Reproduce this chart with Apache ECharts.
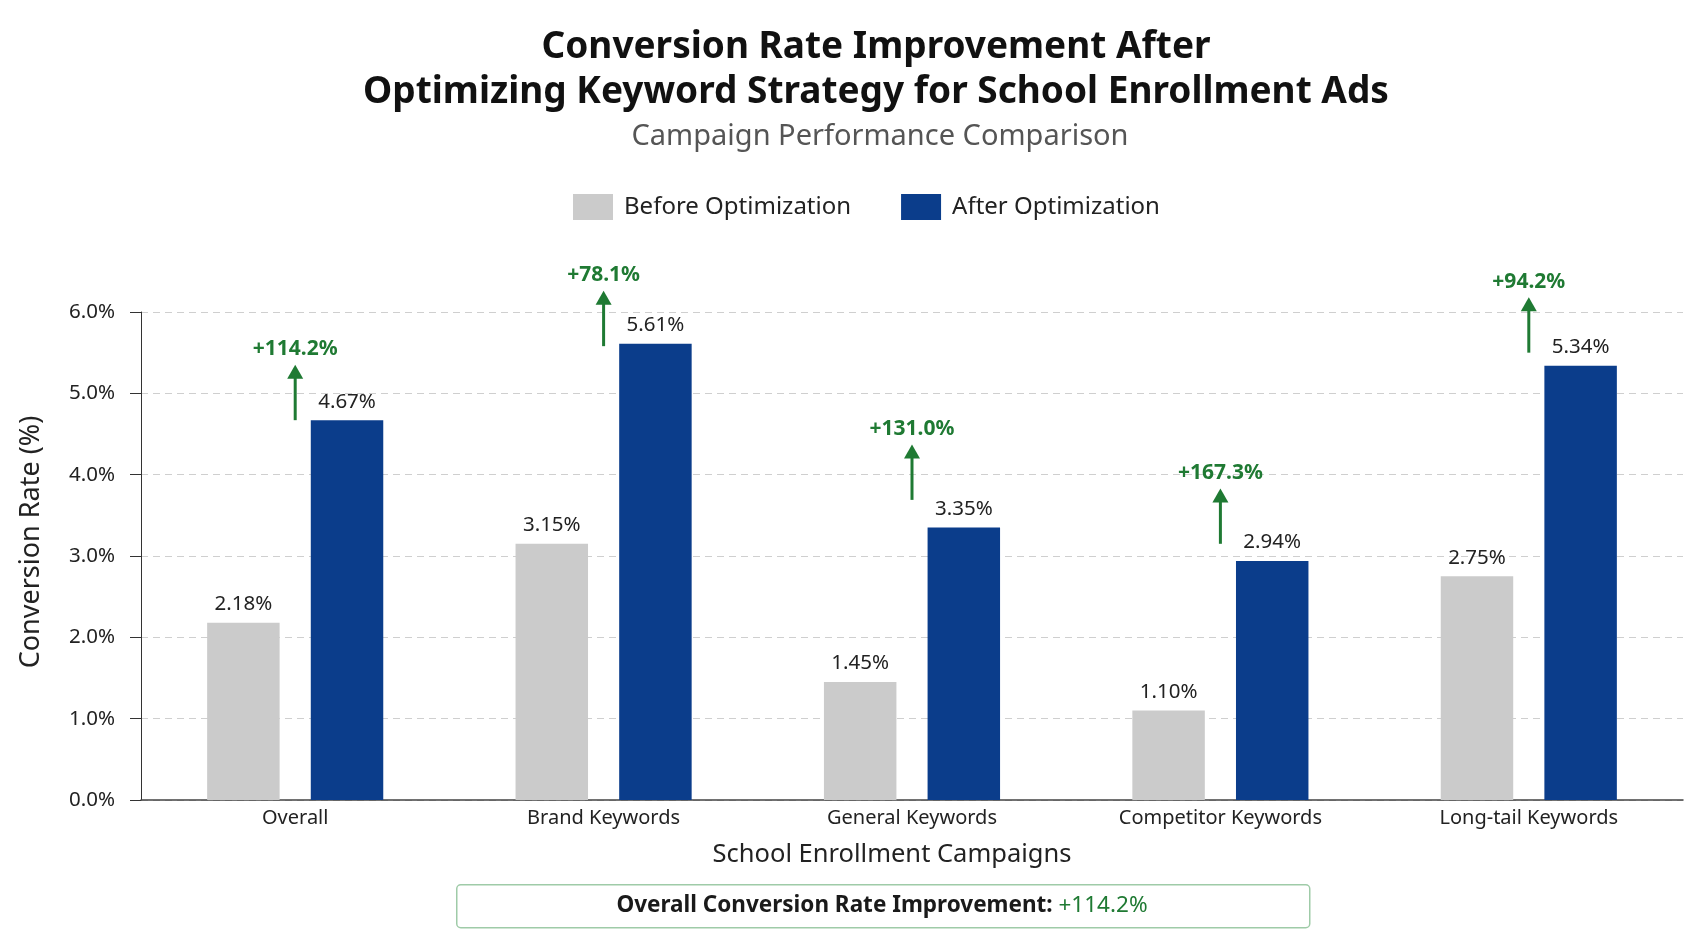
<!DOCTYPE html>
<html>
<head>
<meta charset="utf-8">
<title>Conversion Rate Improvement</title>
<script src="https://cdn.jsdelivr.net/npm/echarts@6/dist/echarts.min.js"></script>
<style>
  html, body { margin: 0; padding: 0; background: #ffffff; }
  #main { width: 1693px; height: 929px; }
</style>
</head>
<body>
<div id="main"></div>
<script>
// data
var categories = ['Overall', 'Brand Keywords', 'General Keywords', 'Competitor Keywords', 'Long-tail Keywords'];
var beforeRates = [2.18, 3.15, 1.45, 1.10, 2.75];
var afterRates = [4.67, 5.61, 3.35, 2.94, 5.34];
// where each green arrow starts (same units as the y axis)
var arrowBase = [4.67, 5.58, 3.69, 3.15, 5.50];
var yTicks = { min: 0, max: 6, interval: 1 };

var FONT = '"Noto Sans", "Open Sans", sans-serif';
var GREEN = '#1f7a33';
var arrowLen = 0.68;

// improvement % computed from the two series
var improvement = beforeRates.map(function (b, i) {
  return ((afterRates[i] - b) / b * 100).toFixed(1);
});

var chart = echarts.init(document.getElementById('main'));

var option = {
  backgroundColor: '#ffffff',
  textStyle: { fontFamily: FONT },
  title: [{
    text: 'Conversion Rate Improvement After\nOptimizing Keyword Strategy for School Enrollment Ads',
    left: 871,
    top: 20,
    textAlign: 'center',
    textStyle: { fontSize: 37, fontWeight: 'bold', color: '#111', lineHeight: 45, fontFamily: FONT }
  }, {
    text: 'Campaign Performance Comparison',
    left: 875,
    top: 117,
    textAlign: 'center',
    textStyle: { fontSize: 29, fontWeight: 'normal', color: '#555', fontFamily: FONT }
  }],
  legend: {
    data: ['Before Optimization', 'After Optimization'],
    left: 568,
    top: 189,
    itemWidth: 40,
    itemHeight: 26,
    itemGap: 50,
    icon: 'rect',
    textStyle: { fontSize: 24, color: '#222', fontFamily: FONT, padding: [0, 0, 0, 6] }
  },
  grid: { left: 141, right: 10, top: 312, bottom: 129, containLabel: false },
  xAxis: {
    type: 'category',
    data: categories,
    name: 'School Enrollment Campaigns',
    nameLocation: 'middle',
    nameGap: 42,
    nameTextStyle: { fontSize: 25.5, color: '#222', fontFamily: FONT, padding: [0, 40, 0, 0] },
    axisLine: { lineStyle: { color: '#444', width: 1.5 } },
    axisTick: { show: false },
    axisLabel: { fontSize: 20, color: '#222', margin: 8, interval: 0 }
  },
  yAxis: {
    type: 'value',
    min: yTicks.min,
    max: yTicks.max,
    interval: yTicks.interval,
    name: 'Conversion Rate (%)',
    nameLocation: 'middle',
    nameGap: 96,
    nameTextStyle: { fontSize: 27, color: '#222', fontFamily: FONT, padding: [0, 0, 0, 28] },
    axisLine: { show: true, lineStyle: { color: '#333', width: 1 } },
    axisTick: { show: true, length: 11, lineStyle: { color: '#333' } },
    axisLabel: {
      fontSize: 20.5, color: '#222', margin: 26,
      formatter: function (v) { return v.toFixed(1) + '%'; }
    },
    splitLine: { lineStyle: { color: '#cfcfcf', type: [7, 5], width: 1 } }
  },
  series: [{
    name: 'Before Optimization',
    type: 'bar',
    data: beforeRates,
    barWidth: '23.5%',
    barGap: '43%',
    itemStyle: { color: '#cbcbcb' },
    label: {
      show: true, position: 'top', distance: 8,
      fontSize: 20.5, color: '#222',
      formatter: function (p) { return p.value.toFixed(2) + '%'; }
    }
  }, {
    name: 'After Optimization',
    type: 'bar',
    data: afterRates,
    barWidth: '23.5%',
    itemStyle: { color: '#0b3d8b' },
    label: {
      show: true, position: 'top', distance: 8,
      fontSize: 20.5, color: '#222',
      formatter: function (p) { return p.value.toFixed(2) + '%'; }
    }
  }, {
    name: 'Improvement',
    type: 'custom',
    clip: false,
    z: 10,
    silent: true,
    data: categories.map(function (c, i) { return [i, arrowBase[i], improvement[i]]; }),
    encode: { x: 0, y: 1 },
    renderItem: function (params, api) {
      var base = api.coord([api.value(0), api.value(1)]);
      var tip = api.coord([api.value(0), api.value(1) + arrowLen]);
      var head = 14;
      var pct = improvement[params.dataIndex];
      return {
        type: 'group',
        children: [{
          type: 'line',
          shape: { x1: base[0], y1: base[1], x2: tip[0], y2: tip[1] + head - 2 },
          style: { stroke: GREEN, lineWidth: 3 }
        }, {
          type: 'polygon',
          shape: { points: [[tip[0], tip[1]], [tip[0] - 8, tip[1] + head], [tip[0] + 8, tip[1] + head]] },
          style: { fill: GREEN }
        }, {
          type: 'text',
          style: {
            text: '+' + pct + '%',
            x: tip[0], y: tip[1] - 5,
            align: 'center', verticalAlign: 'bottom',
            fill: GREEN,
            font: 'bold 21px ' + FONT
          }
        }]
      };
    }
  }],
  graphic: [{
    type: 'rect',
    left: 456,
    top: 884,
    shape: { width: 853, height: 43, r: 4 },
    style: { fill: '#ffffff', stroke: '#9fcba8', lineWidth: 1.5 }
  }, {
    type: 'text',
    x: 882,
    y: 906,
    style: {
      text: '{a|Overall Conversion Rate Improvement: }{b|+' + improvement[0] + '%}',
      align: 'center',
      verticalAlign: 'middle',
      rich: {
        a: { fontSize: 22.5, fontWeight: 'bold', fill: '#1a1a1a', fontFamily: FONT },
        b: { fontSize: 22.5, fontWeight: 'normal', fill: GREEN, fontFamily: FONT }
      }
    }
  }]
};

chart.setOption(option);
</script>
</body>
</html>
